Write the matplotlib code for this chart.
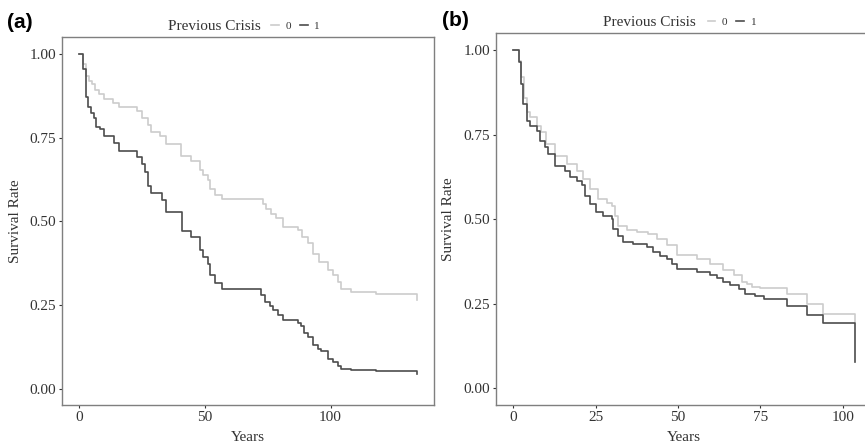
import numpy as np
import matplotlib
matplotlib.use('Agg')
import matplotlib.pyplot as plt
from matplotlib.lines import Line2D

plt.rcParams['font.family'] = ['Liberation Serif', 'DejaVu Serif']

# panel (a) Kaplan-Meier steps
a1_t = [0, 1.7, 2.7, 3.7, 5.0, 6.1, 7.0, 8.3, 10.0, 14.0, 15.9, 22.9, 24.9, 26.2,
        27.5, 28.8, 33.0, 34.8, 41.0, 44.7, 48.0, 49.3, 51.3, 52.0, 54.0, 56.9,
        72.5, 73.8, 75.8, 77.1, 79.1, 81.1, 87.0, 88.4, 89.3, 91.0, 93.0, 95.0,
        96.3, 99.0, 101.0, 103.0, 104.2, 108.2, 118.0, 134.4]
a1_s = [1.00, 0.954, 0.872, 0.842, 0.824, 0.808, 0.782, 0.775, 0.756, 0.733, 0.709,
        0.693, 0.671, 0.648, 0.605, 0.585, 0.565, 0.528, 0.471, 0.452, 0.414, 0.394,
        0.374, 0.339, 0.316, 0.298, 0.279, 0.259, 0.246, 0.234, 0.219, 0.204, 0.196,
        0.187, 0.166, 0.156, 0.130, 0.120, 0.112, 0.090, 0.080, 0.067, 0.060, 0.057,
        0.053, 0.044]
a0_t = [0, 1.8, 3.0, 4.1, 5.3, 6.6, 8.1, 10.0, 13.6, 16.0, 22.9, 25.2, 27.5, 28.8,
        32.1, 34.8, 40.7, 44.7, 48.0, 49.3, 51.3, 52.0, 54.0, 56.9, 73.1, 74.4,
        76.4, 78.4, 81.1, 87.0, 88.8, 91.0, 93.0, 95.6, 99.0, 101.0, 103.0, 104.3,
        108.2, 118.0, 134.4]
a0_s = [1.0, 0.97, 0.934, 0.919, 0.909, 0.894, 0.882, 0.867, 0.855, 0.842, 0.829,
        0.810, 0.788, 0.768, 0.755, 0.731, 0.695, 0.680, 0.653, 0.638, 0.623, 0.598,
        0.580, 0.566, 0.553, 0.538, 0.523, 0.509, 0.484, 0.474, 0.453, 0.434, 0.404,
        0.379, 0.354, 0.339, 0.319, 0.297, 0.290, 0.284, 0.264]

# panel (b)
b1_t = [0, 1.8, 2.5, 3.0, 4.1, 5.1, 7.1, 8.1, 9.6, 10.6, 12.7, 15.7, 17.2, 19.3,
        20.8, 21.8, 23.3, 25.3, 27.4, 29.9, 30.4, 31.9, 33.4, 36.5, 40.5, 42.6,
        44.6, 46.6, 48.1, 49.7, 55.7, 59.8, 61.8, 63.8, 65.9, 68.4, 70.4, 73.5,
        76.0, 83.1, 89.2, 94.0, 103.9]
b1_s = [1.0, 0.965, 0.90, 0.84, 0.79, 0.777, 0.762, 0.732, 0.713, 0.693, 0.659,
        0.644, 0.624, 0.614, 0.600, 0.570, 0.546, 0.521, 0.511, 0.501, 0.472, 0.452,
        0.432, 0.426, 0.418, 0.403, 0.390, 0.384, 0.369, 0.354, 0.344, 0.334, 0.325,
        0.315, 0.305, 0.295, 0.280, 0.272, 0.263, 0.243, 0.218, 0.192, 0.078]
b0_t = [0, 1.8, 2.5, 3.2, 4.1, 5.1, 7.1, 8.6, 10.1, 12.7, 16.2, 19.3, 21.3, 23.3,
        25.8, 28.4, 29.9, 30.9, 31.9, 34.5, 37.5, 41.0, 43.6, 46.6, 49.7, 55.7,
        59.8, 63.8, 66.9, 69.4, 70.9, 72.5, 75.0, 83.1, 89.2, 94.0, 103.9]
b0_s = [1.0, 0.968, 0.92, 0.86, 0.816, 0.801, 0.777, 0.757, 0.723, 0.688, 0.664,
        0.644, 0.619, 0.590, 0.560, 0.548, 0.538, 0.511, 0.479, 0.469, 0.462, 0.457,
        0.442, 0.423, 0.393, 0.384, 0.369, 0.349, 0.334, 0.315, 0.310, 0.300, 0.298,
        0.280, 0.251, 0.221, 0.196]

yticks = [0.0, 0.25, 0.5, 0.75, 1.0]
a_xticks = [0, 50, 100]
b_xticks = [0, 25, 50, 75, 100]

LIGHT = '#cccccc'
DARK = '#4d4d4d'
SPINE = '#7f7f7f'
TXT = '#333333'

fig = plt.figure(figsize=(8.65, 4.45), dpi=100)
ax_a = fig.add_axes([0.0717, 0.0888, 0.4300, 0.8274])
ax_b = fig.add_axes([0.5734, 0.0892, 0.4354, 0.8360])


def style(ax, xlim, xticks):
    ax.set_xlim(xlim)
    ax.set_ylim(-0.05, 1.05)
    ax.set_xticks(xticks)
    ax.set_yticks(yticks)
    ax.set_yticklabels([f'{v:.2f}' for v in yticks])
    for s in ax.spines.values():
        s.set_color(SPINE)
        s.set_linewidth(1.0)
    ax.tick_params(length=2, width=0.8, color=TXT, labelcolor=TXT,
                   labelsize=11, pad=2)
    ax.set_xlabel('Years', fontsize=11, color=TXT, labelpad=5)
    ax.set_ylabel('Survival Rate', fontsize=11, color=TXT, labelpad=6)


for ax, t0, s0, t1, s1, xl, xt in [
        (ax_a, a0_t, a0_s, a1_t, a1_s, (-6.7, 141.1), a_xticks),
        (ax_b, b0_t, b0_s, b1_t, b1_s, (-5.2, 109.1), b_xticks)]:
    ax.step(t0, s0, where='post', color=LIGHT, lw=1.2)
    ax.step(t1, s1, where='post', color=DARK, lw=1.2)
    style(ax, xl, xt)

# legends above each panel
handles = [Line2D([], [], color=LIGHT, lw=1.2), Line2D([], [], color=DARK, lw=1.2)]
for ax in [ax_a, ax_b]:
    ax.text(0.285, 1.028, 'Previous Crisis', transform=ax.transAxes,
            fontsize=11, color=TXT, ha='left', va='center')
    ax.legend(handles, ['0', '1'], ncol=2, frameon=False, fontsize=8,
              loc='center left', bbox_to_anchor=(0.562, 1.03),
              handlelength=0.7, handletextpad=0.6, columnspacing=0.8,
              borderaxespad=0, borderpad=0, labelcolor=TXT)

fig.text(0.023, 0.95, '(a)', fontsize=15, fontweight='bold',
         family='Liberation Sans', ha='center', va='center')
fig.text(0.527, 0.955, '(b)', fontsize=15, fontweight='bold',
         family='Liberation Sans', ha='center', va='center')

fig.savefig('out.png', dpi=100)
